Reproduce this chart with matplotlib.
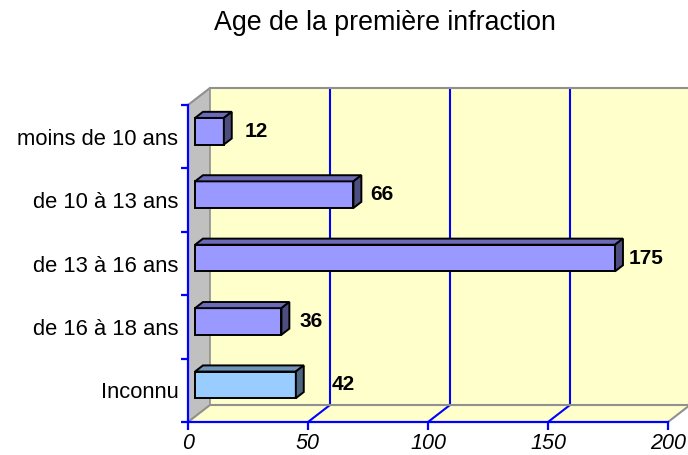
# plot.py
# horizontal 3D-look bar chart : age at first offence

import numpy as np
import matplotlib
matplotlib.use("Agg")
import matplotlib.pyplot as plt
from matplotlib.patches import Polygon, Rectangle

plt.rcParams['font.family'] = ['Liberation Sans', 'DejaVu Sans']

# data
categories = ["moins de 10 ans", "de 10 à 13 ans", "de 13 à 16 ans", "de 16 à 18 ans", "Inconnu"]
values = [12, 66, 175, 36, 42]
label_gap = [21, 17, 14, 18, 36]   # pixel gap between bar end and value label
xticks = [0, 50, 100, 150, 200]

front_cols = ["#9999FF", "#9999FF", "#9999FF", "#9999FF", "#99CCFF"]
top_cols = ["#6B6BB8", "#6B6BB8", "#6B6BB8", "#6B6BB8", "#6F95B8"]
side_cols = ["#4D4D80", "#4D4D80", "#4D4D80", "#4D4D80", "#4D6680"]

W, H = 688, 455
fig = plt.figure(figsize=(W / 100, H / 100), dpi=100)
# front plane of the 3D box
L, R, T, B = 188, 668, 105, 422
ax = fig.add_axes([L / W, (H - B) / H, (R - L) / W, (B - T) / H])
ax.set_xlim(0, 200)
ax.set_ylim(len(categories) - 0.5, -0.5)
ax.patch.set_visible(False)

# depth of the box, in data units
ppx = (R - L) / 200
ppy = (B - T) / len(categories)
DX = 22 / ppx
DY = 17 / ppy
y0, y1 = -0.5, len(categories) - 0.5
wall = "#FFFFCC"
edge = "#909090"

# back wall, floor, left wall
ax.add_patch(Rectangle((DX, y0 - DY), 230, y1 - y0, facecolor=wall, edgecolor="none", zorder=0, clip_on=False))
ax.add_patch(Polygon([(0, y1), (200, y1), (200 + DX, y1 - DY), (DX, y1 - DY)],
                     facecolor=wall, edgecolor="none", zorder=0, clip_on=False))
ax.add_patch(Polygon([(0, y0), (DX, y0 - DY), (DX, y1 - DY), (0, y1)],
                     facecolor="#C0C0C0", edgecolor="none", zorder=0, clip_on=False))

# grid lines on back wall and floor
for v in xticks[1:-1]:
    ax.plot([v + DX, v + DX], [y0 - DY, y1 - DY], color="blue", lw=1.5, zorder=1, clip_on=False)
    ax.plot([v, v + DX], [y1, y1 - DY], color="blue", lw=1.5, zorder=1, clip_on=False)

# grey edges of the box
ax.plot([0, DX, 240], [y0, y0 - DY, y0 - DY], color=edge, lw=1.5, zorder=1, clip_on=False)
ax.plot([DX, DX], [y0 - DY, y1 - DY], color=edge, lw=1.2, zorder=1, clip_on=False)
ax.plot([0, DX, 240], [y1, y1 - DY, y1 - DY], color=edge, lw=1.5, zorder=1, clip_on=False)
ax.plot([200, 200 + DX], [y1, y1 - DY], color=edge, lw=1.5, zorder=1, clip_on=False)

# bars
f0, f1 = 0.32, 0.68
bh = 0.42
ddx, ddy = (f1 - f0) * DX, (f1 - f0) * DY
for i, v in enumerate(values):
    x0 = f0 * DX
    yc = i - f0 * DY
    yt, yb = yc - bh / 2, yc + bh / 2
    ax.add_patch(Rectangle((x0, yt), v, bh, facecolor=front_cols[i], edgecolor="black", lw=1.4, zorder=3))
    ax.add_patch(Polygon([(x0, yt), (x0 + v, yt), (x0 + v + ddx, yt - ddy), (x0 + ddx, yt - ddy)],
                         facecolor=top_cols[i], edgecolor="black", lw=1.4, zorder=3))
    ax.add_patch(Polygon([(x0 + v, yt), (x0 + v + ddx, yt - ddy), (x0 + v + ddx, yb - ddy), (x0 + v, yb)],
                         facecolor=side_cols[i], edgecolor="black", lw=1.4, zorder=3))
    ax.annotate(str(v), (x0 + v, yc), xytext=(label_gap[i], 0), textcoords="offset pixels",
                ha="left", va="center", fontsize=15, fontweight="bold", zorder=4)

# axes
for s in ["top", "right"]:
    ax.spines[s].set_visible(False)
for s in ["left", "bottom"]:
    ax.spines[s].set_color("blue")
    ax.spines[s].set_linewidth(1.6)

ax.set_xticks(xticks)
ax.set_xticklabels([str(t) for t in xticks])
ax.tick_params(axis="x", color="blue", width=1.6, length=6, labelsize=15.5, pad=2)
for lbl in ax.get_xticklabels():
    lbl.set_style("italic")

ax.set_yticks(np.arange(len(categories) + 1) - 0.5)
ax.set_yticklabels([])
ax.set_yticks(np.arange(len(categories)), minor=True)
ax.set_yticklabels(categories, minor=True)
ax.tick_params(axis="y", which="major", color="blue", width=1.6, length=5)
ax.tick_params(axis="y", which="minor", length=0, labelsize=15.8, pad=7)

fig.text(385 / W, 1 - 23 / H, "Age de la première infraction", ha="center", va="center", fontsize=19.3)

fig.savefig("out.png", dpi=100)
